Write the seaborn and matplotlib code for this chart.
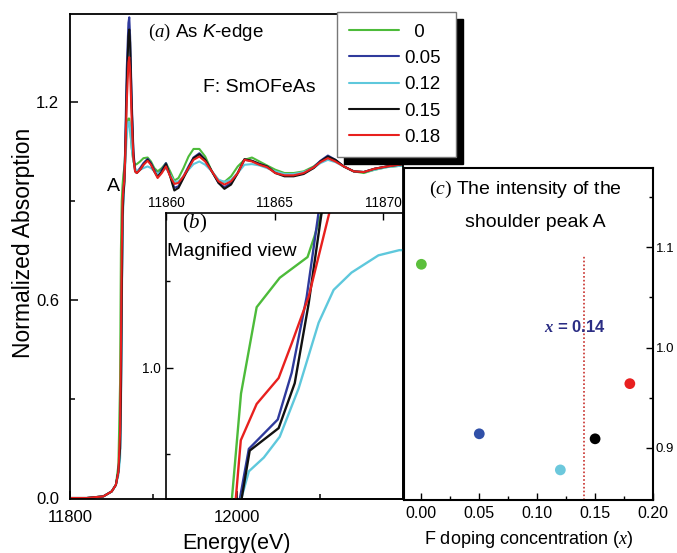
import matplotlib
matplotlib.use("Agg")
import numpy as np
import pandas as pd
import matplotlib.pyplot as plt
import seaborn as sns
from matplotlib.ticker import FixedLocator, FormatStrFormatter, MultipleLocator

# ---------------- data ----------------
doping_labels = ["0", "0.05", "0.12", "0.15", "0.18"]
line_colors = ["#4dbb3a", "#2f3a9c", "#5ec8dc", "#111111", "#e8201e"]

energy_main = [11800, 11820, 11840, 11850, 11855, 11858, 11860, 11861, 11862, 11863,
               11864, 11865, 11866, 11868, 11870, 11871, 11872, 11874, 11876, 11878,
               11880, 11884, 11888, 11893, 11897, 11901, 11905, 11910, 11915, 11920,
               11925, 11930, 11936, 11942, 11948, 11955, 11962, 11970, 11978, 11985,
               11993, 12001, 12009, 12018, 12027, 12036, 12046, 12057, 12068, 12080,
               12092, 12100, 12109, 12118, 12128, 12140, 12152, 12165, 12180, 12200]

abs_x000 = [0.0, 0.0, 0.005, 0.02, 0.04, 0.10, 0.35, 0.75, 0.90, 0.95,
            0.98, 1.00, 1.04, 1.12, 1.15, 1.15, 1.12, 1.06, 1.02, 1.01,
            1.012, 1.02, 1.03, 1.032, 1.02, 1.00, 0.99, 1.00, 1.015, 0.99,
            0.962, 0.97, 1.00, 1.035, 1.058, 1.058, 1.035, 0.99, 0.962, 0.958,
            0.975, 1.005, 1.025, 1.032, 1.02, 1.008, 0.995, 0.985, 0.985, 0.99,
            1.005, 1.02, 1.03, 1.022, 1.005, 0.99, 0.985, 0.995, 1.003, 1.008]
abs_x005 = [0.0, 0.0, 0.005, 0.02, 0.04, 0.08, 0.15, 0.30, 0.60, 0.85,
            0.93, 0.96, 1.05, 1.30, 1.44, 1.457, 1.40, 1.20, 1.05, 0.995,
            0.988, 1.00, 1.015, 1.028, 1.015, 0.995, 0.98, 0.995, 1.015, 0.978,
            0.94, 0.945, 0.975, 1.005, 1.032, 1.045, 1.025, 0.99, 0.955, 0.942,
            0.955, 0.985, 1.025, 1.022, 1.013, 1.005, 0.987, 0.978, 0.978, 0.985,
            1.003, 1.022, 1.038, 1.025, 1.005, 0.99, 0.988, 0.998, 1.005, 1.012]
abs_x012 = [0.0, 0.0, 0.005, 0.02, 0.04, 0.07, 0.12, 0.25, 0.55, 0.82,
            0.90, 0.95, 1.00, 1.10, 1.14, 1.14, 1.12, 1.06, 1.02, 1.00,
            0.99, 0.995, 1.00, 1.005, 1.00, 0.99, 0.982, 0.99, 1.00, 0.98,
            0.958, 0.96, 0.975, 0.995, 1.012, 1.02, 1.01, 0.99, 0.965, 0.958,
            0.965, 0.985, 1.01, 1.012, 1.008, 1.00, 0.99, 0.982, 0.982, 0.988,
            1.00, 1.015, 1.025, 1.018, 1.005, 0.99, 0.988, 0.995, 1.003, 1.008]
abs_x015 = [0.0, 0.0, 0.005, 0.02, 0.04, 0.08, 0.15, 0.30, 0.60, 0.85,
            0.92, 0.95, 1.02, 1.25, 1.40, 1.42, 1.38, 1.18, 1.04, 0.99,
            0.985, 0.995, 1.01, 1.025, 1.012, 0.99, 0.973, 0.99, 1.012, 0.975,
            0.932, 0.94, 0.97, 1.00, 1.03, 1.042, 1.025, 0.99, 0.955, 0.937,
            0.95, 0.985, 1.027, 1.022, 1.012, 1.005, 0.985, 0.975, 0.975, 0.982,
            1.00, 1.02, 1.035, 1.025, 1.005, 0.99, 0.988, 0.998, 1.005, 1.012]
abs_x018 = [0.0, 0.0, 0.005, 0.02, 0.04, 0.08, 0.20, 0.45, 0.75, 0.90,
            0.94, 0.96, 1.02, 1.20, 1.32, 1.336, 1.30, 1.14, 1.03, 0.99,
            0.985, 0.995, 1.01, 1.022, 1.01, 0.99, 0.97, 0.985, 1.005, 0.975,
            0.952, 0.955, 0.975, 1.00, 1.025, 1.035, 1.02, 0.99, 0.96, 0.95,
            0.96, 0.985, 1.025, 1.02, 1.01, 1.003, 0.985, 0.978, 0.978, 0.985,
            1.002, 1.018, 1.03, 1.02, 1.005, 0.99, 0.988, 0.998, 1.005, 1.012]

# magnified view (b)
mag_e_x000 = [11862.94, 11863.03, 11863.45, 11864.17, 11865.23, 11866.51, 11866.83, 11867.16, 11867.29]
mag_a_x000 = [0.911, 0.924, 0.985, 1.035, 1.052, 1.064, 1.076, 1.090, 1.097]
mag_e_x005 = [11863.21, 11863.81, 11865.14, 11865.78, 11866.47, 11867.02, 11867.11]
mag_a_x005 = [0.911, 0.953, 0.970, 0.997, 1.041, 1.090, 1.097]
mag_e_x012 = [11863.17, 11863.81, 11864.50, 11865.23, 11866.10, 11867.02, 11867.71, 11868.53, 11869.77, 11870.73, 11871.06]
mag_a_x012 = [0.911, 0.940, 0.948, 0.960, 0.988, 1.026, 1.045, 1.055, 1.065, 1.068, 1.068]
mag_e_x015 = [11863.30, 11863.85, 11865.18, 11865.92, 11866.56, 11867.16, 11867.25]
mag_a_x015 = [0.911, 0.952, 0.965, 0.991, 1.037, 1.090, 1.097]
mag_e_x018 = [11863.12, 11863.44, 11864.17, 11865.18, 11865.78, 11866.56, 11867.52, 11867.66]
mag_a_x018 = [0.911, 0.958, 0.979, 0.994, 1.014, 1.041, 1.090, 1.097]

# shoulder peak intensity (c)
doping_x = [0.00, 0.05, 0.12, 0.15, 0.18]
shoulder_intensity = [1.083, 0.914, 0.878, 0.909, 0.964]
point_colors = ["#5cbf3c", "#3050a8", "#6cc8dc", "#000000", "#e82020"]
critical_x = 0.14
critical_line_top = 1.092

# ---------------- style ----------------
sns.set_theme(style="white")
plt.rcParams["font.family"] = ["Liberation Sans", "DejaVu Sans"]
plt.rcParams["mathtext.fontset"] = "custom"
plt.rcParams["mathtext.rm"] = "Liberation Serif"
plt.rcParams["mathtext.it"] = "Liberation Serif:italic"
plt.rcParams["mathtext.sf"] = "Liberation Sans:italic"
plt.rcParams["mathtext.bf"] = "Liberation Serif:bold:italic"

W, H = 677, 553
fig = plt.figure(figsize=(W / 100, H / 100), dpi=100)

ax = fig.add_axes([70 / W, 54 / H, 333 / W, 485 / H])
axb = fig.add_axes([166 / W, 54 / H, 237 / W, 286 / H])
axc = fig.add_axes([404 / W, 53 / H, 249 / W, 332 / H])

palette = dict(zip(doping_labels, line_colors))

# ---------------- main panel (a) ----------------
main_series = [abs_x000, abs_x005, abs_x012, abs_x015, abs_x018]
df_main = pd.concat([pd.DataFrame({"Energy": energy_main, "Absorption": s, "F": lab})
                     for lab, s in zip(doping_labels, main_series)], ignore_index=True)
sns.lineplot(data=df_main, x="Energy", y="Absorption", hue="F", hue_order=doping_labels,
             palette=palette, estimator=None, linewidth=1.5, legend=False, ax=ax)
ax.set_xlim(11800, 12199)
ax.set_ylim(-0.003, 1.467)
ax.set_xticks([11800, 12000])
ax.set_xticklabels(["11800", "12000"])
ax.xaxis.set_minor_locator(FixedLocator([11900, 12100]))
ax.set_yticks([0.0, 0.6, 1.2])
ax.yaxis.set_major_formatter(FormatStrFormatter("%.1f"))
ax.yaxis.set_minor_locator(FixedLocator([0.3, 0.9]))
ax.tick_params(which="both", direction="in", bottom=True, left=True, top=False, right=False,
               colors="black", labelsize=12, width=1.1)
ax.tick_params(which="major", length=6, pad=8)
ax.tick_params(which="minor", length=3.5)
ax.set_xlabel("Energy(eV)", fontsize=15.5, labelpad=6, color="black")
ax.set_ylabel("Normalized Absorption", fontsize=16.5, color="black")
ax.yaxis.set_label_coords(-0.104, 0.528)
for sp in ax.spines.values():
    sp.set_color("black")
    sp.set_linewidth(1.3)
ax.text(11893, 1.412, r"$(\mathit{a})$ As $\mathsf{K}$-edge", fontsize=13.5,
        ha="left", va="center", color="black")
ax.text(11959, 1.245, "F: SmOFeAs", fontsize=14, ha="left", va="center", color="black")
ax.text(11852.5, 0.945, "A", fontsize=14, ha="center", va="center", color="black")

# ---------------- inset (b) ----------------
mag_e = [mag_e_x000, mag_e_x005, mag_e_x012, mag_e_x015, mag_e_x018]
mag_a = [mag_a_x000, mag_a_x005, mag_a_x012, mag_a_x015, mag_a_x018]
df_mag = pd.concat([pd.DataFrame({"Energy": e, "Absorption": a, "F": lab})
                    for lab, e, a in zip(doping_labels, mag_e, mag_a)], ignore_index=True)
axb.set_facecolor("none")
sns.lineplot(data=df_mag, x="Energy", y="Absorption", hue="F", hue_order=doping_labels,
             palette=palette, estimator=None, linewidth=1.7, legend=False, ax=axb)
axb.set_xlim(11860, 11870.9)
axb.set_ylim(0.924, 1.0895)
axb.set_xlabel("")
axb.set_ylabel("")
axb.xaxis.tick_top()
axb.set_xticks([11860, 11865, 11870])
axb.set_xticklabels(["11860", "11865", "11870"])
axb.set_yticks([1.0])
axb.set_yticklabels(["1.0"])
axb.yaxis.set_minor_locator(FixedLocator([0.95, 1.05]))
axb.tick_params(which="both", direction="in", top=True, bottom=False, left=True, right=False,
                labeltop=True, labelbottom=False, colors="black", labelsize=9.8, width=1.0)
axb.tick_params(axis="x", which="major", length=5, pad=2)
axb.tick_params(axis="y", which="major", length=5, pad=4)
axb.tick_params(which="minor", length=3)
for sp in axb.spines.values():
    sp.set_color("black")
    sp.set_linewidth(1.2)
axb.text(0.068, 0.965, r"$(\mathit{b})$", transform=axb.transAxes, fontsize=15,
         ha="left", va="center", color="black")
axb.text(0.004, 0.864, "Magnified view", transform=axb.transAxes, fontsize=14,
         ha="left", va="center", color="black")

# ---------------- panel (c) ----------------
axc.set_facecolor("white")
sns.scatterplot(x=doping_x, y=shoulder_intensity, hue=doping_labels, hue_order=doping_labels,
                palette=dict(zip(doping_labels, point_colors)), s=60, edgecolor="none",
                legend=False, ax=axc, zorder=3)
axc.set_xlim(-0.015, 0.2)
axc.set_ylim(0.848, 1.179)
axc.vlines(critical_x, 0.848, critical_line_top, colors="#c8302c",
           linestyles=(0, (1, 1.3)), linewidth=1.2, zorder=2)
axc.yaxis.tick_right()
axc.set_yticks([0.9, 1.0, 1.1])
axc.yaxis.set_major_formatter(FormatStrFormatter("%.1f"))
axc.yaxis.set_minor_locator(FixedLocator([0.95, 1.05, 1.15]))
axc.set_xticks([0.0, 0.05, 0.10, 0.15, 0.20])
axc.xaxis.set_major_formatter(FormatStrFormatter("%.2f"))
axc.xaxis.set_minor_locator(MultipleLocator(0.025))
axc.tick_params(which="both", direction="in", bottom=True, right=True, left=False, top=False,
                colors="black", width=1.0)
axc.tick_params(axis="x", which="major", length=5, pad=4, labelsize=11.5)
axc.tick_params(axis="y", which="major", length=5, pad=2, labelsize=9.5)
axc.tick_params(which="minor", length=3)
axc.set_xlabel(r"F doping concentration ($\mathit{x}$)", fontsize=13, labelpad=6, color="black")
axc.set_ylabel("")
for sp in axc.spines.values():
    sp.set_color("black")
    sp.set_linewidth(1.5)
axc.text(0.486, 0.934, r"$(\mathit{c})$ The intensity of the", transform=axc.transAxes,
         fontsize=14, ha="center", va="center", color="black")
axc.text(0.526, 0.837, "shoulder peak A", transform=axc.transAxes,
         fontsize=14, ha="center", va="center", color="black")
axc.text(0.1328, 1.02, r"$\mathbf{x}$ = 0.14", fontsize=12, fontweight="bold",
         ha="center", va="center", color="#2b2d84")

# ---------------- legend ----------------
handles = ax.get_lines()[:5]
legend_labels = [("  " + lab) if len(lab) == 1 else lab for lab in doping_labels]
leg = fig.legend(handles=handles, labels=legend_labels, loc="upper left",
                 bbox_to_anchor=(337 / W, 1 - 158 / H, 119 / W, 146 / H),
                 bbox_transform=fig.transFigure, mode="expand",
                 frameon=True, fancybox=False, framealpha=1, facecolor="white",
                 edgecolor="#777777", fontsize=13.4, handlelength=2.7, handletextpad=0.3,
                 labelspacing=0.5, borderpad=0.62, borderaxespad=0,
                 shadow={"ox": 4.8, "oy": -4.8, "facecolor": "black",
                         "edgecolor": "black", "alpha": 1})
leg.get_frame().set_linewidth(1.0)
for t in leg.get_texts():
    t.set_color("black")

fig.savefig("out.png", dpi=100)
